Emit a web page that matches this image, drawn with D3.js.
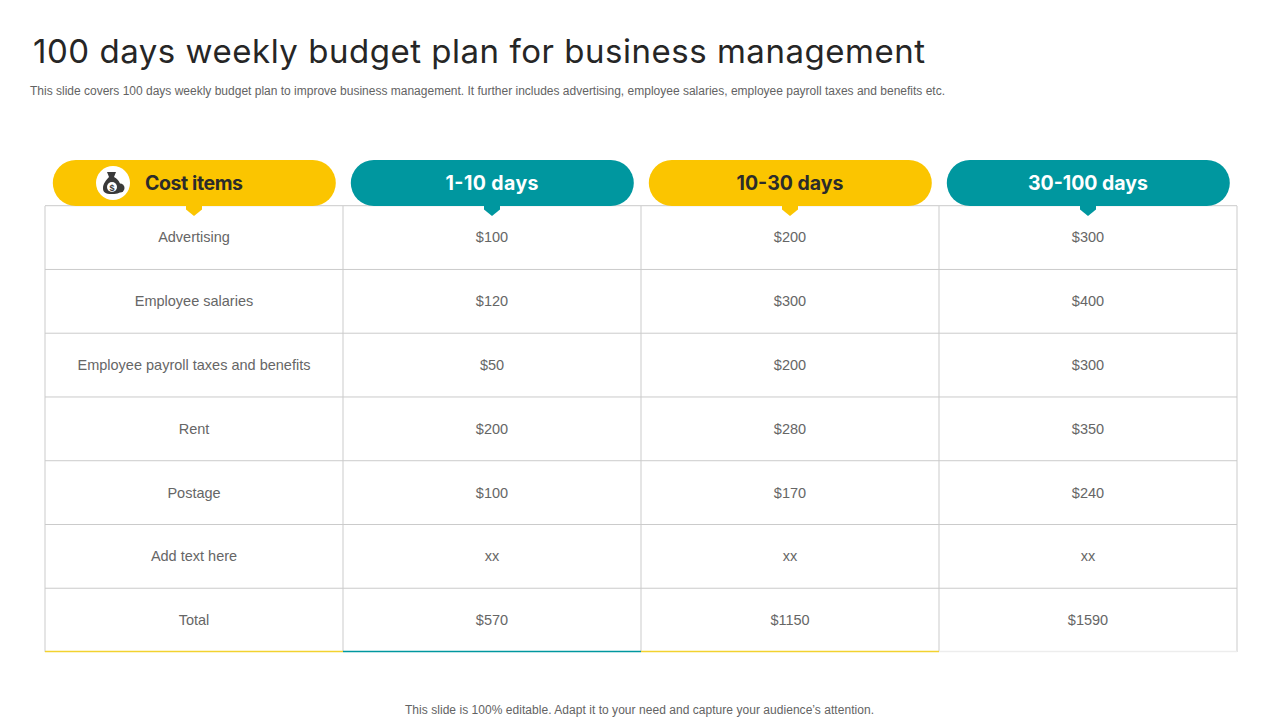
<!DOCTYPE html>
<html>
<head>
<meta charset="utf-8">
<script src="https://cdn.jsdelivr.net/npm/d3@7/dist/d3.min.js"></script>
<style>
  html, body { margin: 0; padding: 0; background: #fff; }
  svg { display: block; }
  text { font-family: "Liberation Sans", Arial, sans-serif; }
</style>
</head>
<body>
<div id="chart"></div>
<script>
// Table content
const columns = ["Cost items", "1-10 days", "10-30 days", "30-100 days"];
const costItems = ["Advertising", "Employee salaries", "Employee payroll taxes and benefits", "Rent", "Postage", "Add text here", "Total"];
const days1to10 = ["$100", "$120", "$50", "$200", "$100", "xx", "$570"];
const days10to30 = ["$200", "$300", "$200", "$280", "$170", "xx", "$1150"];
const days30to100 = ["$300", "$400", "$300", "$350", "$240", "xx", "$1590"];
const columnValues = [costItems, days1to10, days10to30, days30to100];
const columnColors = ["#fbc500", "#00979f", "#fbc500", "#00979f"];
const headerTextColors = ["#2b2b2b", "#ffffff", "#2b2b2b", "#ffffff"];
const bottomColors = ["#f2d230", "#00979f", "#f2d230", "#ededed"];

const titleText = "100 days weekly budget plan for business management";
const subtitleText = "This slide covers 100 days weekly budget plan to improve business management. It further includes advertising, employee salaries, employee payroll taxes and benefits etc.";
const footerText = "This slide is 100% editable. Adapt it to your need and capture your audience\u2019s attention.";

const width = 1280, height = 720;
const svg = d3.select("#chart").append("svg")
    .attr("width", width)
    .attr("height", height);

// Scales for the table grid
const xScale = d3.scaleBand().domain(columns).range([45, 1237]);
const yScale = d3.scaleBand().domain(costItems).range([205.7, 652]);
const cellW = xScale.bandwidth();
const rowH = yScale.bandwidth();

// Title and subtitle
svg.append("text")
    .attr("x", 33).attr("y", 63)
    .attr("textLength", 892)
    .attr("font-size", 33)
    .attr("fill", "#262626")
    .style("font-family", "Inter, sans-serif")
    .text(titleText);

svg.append("text")
    .attr("x", 30).attr("y", 94.5)
    .attr("textLength", 915)
    .attr("font-size", 12)
    .attr("fill", "#636363")
    .text(subtitleText);

// Grid lines
const grid = svg.append("g").attr("stroke", "#cbcbcb").attr("stroke-width", 1);
grid.selectAll(".row-line")
    .data(costItems)
    .enter().append("line")
    .attr("class", "row-line")
    .attr("x1", 45).attr("x2", 1237)
    .attr("y1", d => yScale(d))
    .attr("y2", d => yScale(d));

grid.selectAll(".col-line")
    .data(columns)
    .enter().append("line")
    .attr("class", "col-line")
    .attr("x1", d => xScale(d))
    .attr("x2", d => xScale(d))
    .attr("y1", 206).attr("y2", 652);

grid.append("line")
    .attr("x1", 1237).attr("x2", 1237)
    .attr("y1", 206).attr("y2", 652);

// Coloured line under each column
svg.selectAll(".bottom-line")
    .data(columns)
    .enter().append("line")
    .attr("class", "bottom-line")
    .attr("x1", d => xScale(d))
    .attr("x2", d => xScale(d) + cellW)
    .attr("y1", 651.5).attr("y2", 651.5)
    .attr("stroke", (d, i) => bottomColors[i])
    .attr("stroke-width", 1.3);

// Cell text
columns.forEach((col, i) => {
    svg.selectAll(".cell-" + i)
        .data(columnValues[i])
        .enter().append("text")
        .attr("class", "cell-" + i)
        .attr("x", xScale(col) + cellW / 2)
        .attr("y", (d, j) => yScale(costItems[j]) + rowH / 2 + 4.9)
        .attr("text-anchor", "middle")
        .attr("font-size", 14.5)
        .attr("fill", "#666666")
        .text(d => d);
});

// Header pills with their small pointers
const header = svg.selectAll(".header")
    .data(columns)
    .enter().append("g")
    .attr("class", "header")
    .attr("transform", d => "translate(" + (xScale(d) + cellW / 2) + ",0)");

header.append("path")
    .attr("d", "M-8,204 L8,204 L8,209.5 L0,216 L-8,209.5 Z")
    .attr("fill", (d, i) => columnColors[i]);

header.append("rect")
    .attr("x", -141.2)
    .attr("y", 160)
    .attr("width", 283)
    .attr("height", 46)
    .attr("rx", 23)
    .attr("fill", (d, i) => columnColors[i]);

// Header labels are stretched a little: the digits are wider in the original font
const headerWidths = [98, 93, 107, 120];
header.append("text")
    .attr("y", 190)
    .attr("text-anchor", "middle")
    .attr("textLength", (d, i) => headerWidths[i])
    .attr("font-size", 19.5)
    .attr("font-weight", 700)
    .attr("fill", (d, i) => headerTextColors[i])
    .style("font-family", "Inter, sans-serif")
    .text(d => d);

// Money bag icon in the first pill
const icon = svg.append("g").attr("transform", "translate(113,183)");
icon.append("circle").attr("r", 17).attr("fill", "#fff");
icon.append("path")
    .attr("d", "M-6,-11 L3,-11 L1,-6 C7,-3 8,3 8,6 C8,10 5,11 -1,11 C-8,11 -10,9 -10,5 C-10,1 -7,-3 -4,-6 Z")
    .attr("fill", "#3a3a3a");
icon.append("circle").attr("cx", 7).attr("cy", 5).attr("r", 4.5).attr("fill", "#3a3a3a");
icon.append("circle").attr("cx", -1).attr("cy", 4).attr("r", 5).attr("fill", "#fff");
icon.append("text")
    .attr("x", -1).attr("y", 7.5)
    .attr("text-anchor", "middle")
    .attr("font-size", 9)
    .attr("font-weight", 700)
    .attr("fill", "#3a3a3a")
    .text("$");

// Footer
svg.append("text")
    .attr("x", 405).attr("y", 714)
    .attr("textLength", 469)
    .attr("font-size", 12)
    .attr("fill", "#636363")
    .text(footerText);
</script>
</body>
</html>
